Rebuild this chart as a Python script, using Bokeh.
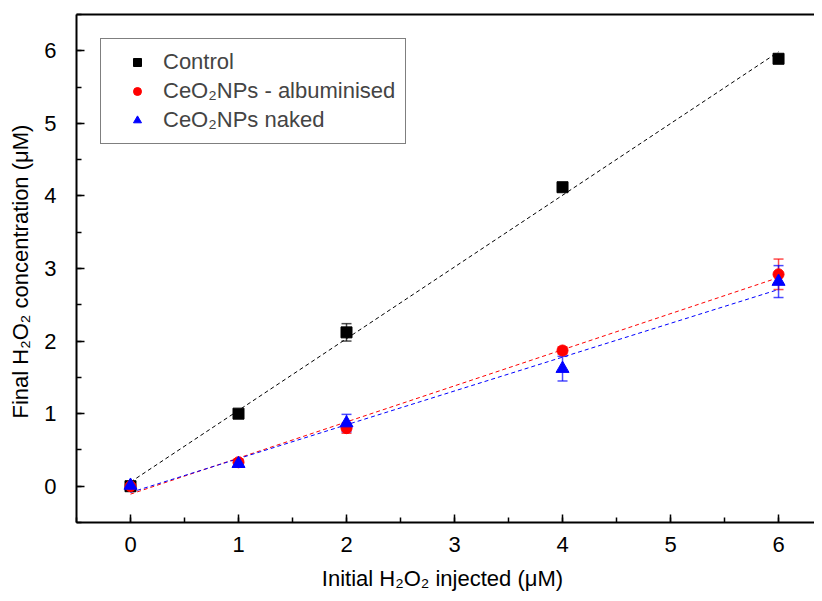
import numpy as np
from bokeh.plotting import figure
from bokeh.models import (ColumnDataSource, Range1d, LinearAxis, FixedTicker,
                          SingleIntervalTicker, Whisker, TeeHead, Legend, LegendItem)
from bokeh.embed import file_html
from bokeh.resources import INLINE

# ---- data ----
x_inj = [0, 1, 2, 4, 6]
control = [0.0, 1.0, 2.12, 4.12, 5.89]
control_err = [0.02, 0.02, 0.12, 0.05, 0.03]
albuminised = [0.0, 0.33, 0.80, 1.87, 2.92]
albuminised_err = [0.03, 0.05, 0.07, 0.05, 0.21]
naked = [0.01, 0.31, 0.87, 1.62, 2.82]
naked_err = [0.03, 0.05, 0.12, 0.17, 0.22]

FONT = "Liberation Sans"

p = figure(width=814, height=593, output_backend="svg", toolbar_location=None,
           x_range=Range1d(-0.5, 6.333), y_range=Range1d(-0.5, 6.5),
           min_border_left=76, min_border_right=0, min_border_top=14, min_border_bottom=71,
           x_axis_label="Initial H₂O₂  injected (μM)",
           y_axis_label="Final H₂O₂ concentration  (μM)")
p.outline_line_color = None
p.grid.visible = False
p.background_fill_color = "white"
p.border_fill_color = "white"

for ax, standoff, lab_standoff in ((p.xaxis[0], 14, 11), (p.yaxis[0], 20, 8)):
    ax.ticker = SingleIntervalTicker(interval=1, num_minor_ticks=2)
    ax.axis_line_width = 2
    ax.axis_line_color = "black"
    ax.major_tick_in = 8
    ax.major_tick_out = 0
    ax.minor_tick_in = 5
    ax.minor_tick_out = 0
    ax.major_tick_line_width = 1.5
    ax.minor_tick_line_width = 1.5
    ax.major_label_text_font = FONT
    ax.major_label_text_font_size = "22px"
    ax.major_label_text_color = "black"
    ax.major_label_standoff = standoff
    ax.axis_label_text_font = FONT
    ax.axis_label_text_font_size = "22px"
    ax.axis_label_text_font_style = "normal"
    ax.axis_label_text_color = "black"
    ax.axis_label_standoff = lab_standoff

top = LinearAxis(ticker=FixedTicker(ticks=[]), major_label_text_font_size="0px",
                 axis_line_width=2, major_tick_line_color=None, minor_tick_line_color=None)
p.add_layout(top, "above")

series = [
    ("Control", control, control_err, "black", "square", 11),
    ("CeO₂NPs - albuminised", albuminised, albuminised_err, "red", "circle", 11),
    ("CeO₂NPs naked", naked, naked_err, "blue", "triangle", 13),
]

xs = np.array(x_inj, dtype=float)
# fit lines
for name, ys, errs, col, marker, size in series:
    slope, icpt = np.polyfit(xs, np.array(ys), 1)
    xf = np.array([x_inj[0], x_inj[-1]], dtype=float)
    p.line(xf, slope * xf + icpt, line_color=col, line_width=1, line_dash="4 3")

items = []
for name, ys, errs, col, marker, size in series:
    ys = np.array(ys)
    errs = np.array(errs)
    src = ColumnDataSource(dict(x=xs, y=ys, lo=ys - errs, hi=ys + errs))
    w = Whisker(source=src, base="x", lower="lo", upper="hi", dimension="height",
                line_color=col, line_alpha=0.7, line_width=1.5,
                upper_head=TeeHead(size=10, line_color=col, line_alpha=0.7, line_width=1.5),
                lower_head=TeeHead(size=10, line_color=col, line_alpha=0.7, line_width=1.5))
    p.add_layout(w)
    r = p.scatter("x", "y", source=src, marker=marker, size=size,
                  fill_color=col, line_color=col)
    items.append(LegendItem(label=name, renderers=[r]))

legend = Legend(items=items, location="top_left", margin=24,
                border_line_color="black", border_line_width=1,
                label_text_font=FONT, label_text_font_size="22px",
                padding=10, spacing=3, label_height=26, glyph_width=52,
                label_standoff=0, background_fill_alpha=1)
p.add_layout(legend)

open("out.html", "w").write(file_html(p, INLINE))
